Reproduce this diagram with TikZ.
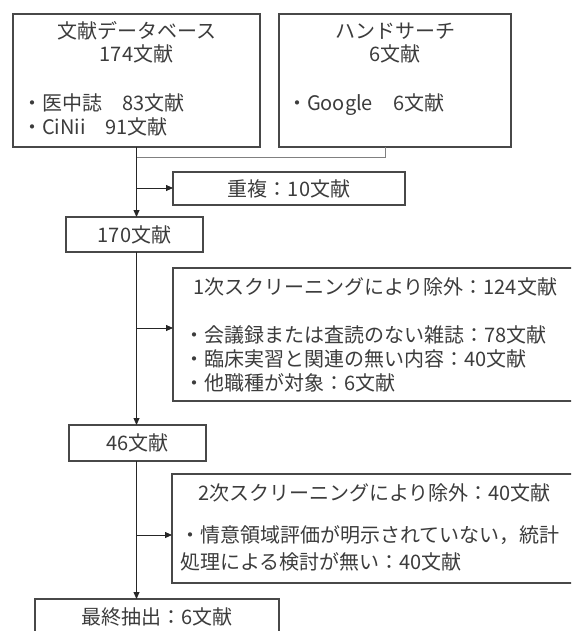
\documentclass[tikz,border=0pt]{standalone}
\usepackage{fontspec}
\newfontfamily\jp{Noto Sans CJK JP}
\usetikzlibrary{arrows.meta}
\definecolor{ink}{HTML}{3C3C3C}
\definecolor{edge}{HTML}{484848}
\begin{document}
\begin{tikzpicture}[x=1pt,y=-1pt,
  box/.style={draw=edge, line width=1.4pt, inner sep=0pt, outer sep=0pt,
    font=\jp\fontsize{20}{24}\selectfont, text=ink, anchor=north west},
  txt/.style={inner sep=0pt, outer sep=0pt, font=\jp\fontsize{20}{24}\selectfont,
    text=ink, anchor=base west},
  ctxt/.style={txt, anchor=base},
  arr/.style={draw=black!85, line width=0.8pt, -{Triangle[length=7pt,width=6pt]}},
  merge/.style={draw=black!50, line width=0.9pt}]
\useasboundingbox (0,0) rectangle (571,631);
\clip (0,0) rectangle (571,631);
\fill[white] (0,0) rectangle (571,631);
% top boxes
\node[box, minimum width=247pt, minimum height=133pt] (A) at (13,14) {};
\node[box, minimum width=232pt, minimum height=133pt] (B) at (279,14) {};
\node[ctxt] (Atitle) at (136.5,39) {文献データベース};
\node[ctxt] (Anum) at (136.5,62) {174文献};
\node[txt] (Ai) at (22,111) {・医中誌　83文献};
\node[txt] (Aii) at (22,135) {・CiNii　91文献};
\node[ctxt] (Btitle) at (395,39) {ハンドサーチ};
\node[ctxt] (Bnum) at (395,62) {6文献};
\node[txt] (Bi) at (287,111) {・Google　6文献};
% flow boxes
\node[box, minimum width=232pt, minimum height=33pt] (dup) at (173,172) {重複：10文献};
\node[box, minimum width=137pt, minimum height=35pt] (n170) at (66,217) {170文献};
\node[box, minimum width=420pt, minimum height=133pt] (s1) at (173,268) {};
\node[txt] (s1t) at (193,294) {1次スクリーニングにより除外：124文献};
\node[txt] (s1a) at (184,342) {・会議録または査読のない雑誌：78文献};
\node[txt] (s1b) at (184,366) {・臨床実習と関連の無い内容：40文献};
\node[txt] (s1c) at (184,390) {・他職種が対象：6文献};
\node[box, minimum width=137pt, minimum height=36pt] (n46) at (69,425) {46文献};
\node[box, minimum width=420pt, minimum height=109pt] (s2) at (172,474) {};
\node[txt] (s2t) at (198,500) {2次スクリーニングにより除外：40文献};
\node[txt] (s2a) at (180,542) {・情意領域評価が明示されていない，統計};
\node[txt] (s2b) at (180,569) {処理による検討が無い：40文献};
\node[box, minimum width=244pt, minimum height=36pt] (fin) at (35,599) {最終抽出：6文献};
% connectors
\coordinate (j0) at (136.5,157);
\coordinate (bc) at (385,147);
\draw[merge] (j0) -| (bc);
\draw[arr] (A.south) -- (A.south |- n170.north);
\coordinate (t1) at (136.5,188);
\draw[arr] (t1) -- (t1 -| dup.west);
\draw[arr] (n170.south -| A.south) -- (A.south |- n46.north);
\coordinate (t2) at (136.5,328);
\draw[arr] (t2) -- (t2 -| s1.west);
\draw[arr] (n46.south -| A.south) -- (A.south |- fin.north);
\coordinate (t3) at (136.5,535);
\draw[arr] (t3) -- (t3 -| s2.west);
\end{tikzpicture}
\end{document}
